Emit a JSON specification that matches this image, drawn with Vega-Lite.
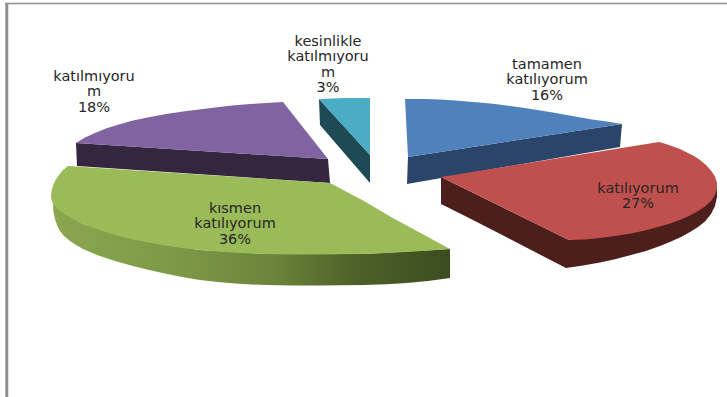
{
  "$schema": "https://vega.github.io/schema/vega-lite/v6.json",
  "width": 727,
  "height": 397,
  "padding": 0,
  "autosize": {"type": "none"},
  "background": "white",
  "projection": {"type": "identity", "scale": 1, "translate": [0, 0]},
  "datasets": {
    "frame": [
      {"type": "Feature", "properties": {"edge": "top", "w": 1.4}, "geometry": {"type": "LineString", "coordinates": [[5, 3.5], [727, 3.5]]}},
      {"type": "Feature", "properties": {"edge": "left", "w": 3}, "geometry": {"type": "LineString", "coordinates": [[6.8, 3], [6.8, 397]]}}
    ],
    "faces": [
      {"type": "Feature", "properties": {"face": "cyan side"}, "geometry": {"type": "Polygon", "coordinates": [[[319, 99], [320, 125], [370, 183], [370, 155], [319, 99]]]}},
      {"type": "Feature", "properties": {"face": "cyan top"}, "geometry": {"type": "Polygon", "coordinates": [[[319, 99], [345, 98], [370, 98], [370, 155], [319, 99]]]}},
      {"type": "Feature", "properties": {"face": "blue side"}, "geometry": {"type": "Polygon", "coordinates": [[[408, 157], [622, 124], [620, 147], [407, 184], [408, 157]]]}},
      {"type": "Feature", "properties": {"face": "blue top"}, "geometry": {"type": "Polygon", "coordinates": [[[405, 99], [425, 99], [440, 99.5], [455, 100.5], [470, 101.7], [485, 103], [497, 104.3], [510, 106], [523, 107.8], [537, 110], [550, 112], [564, 114.5], [578, 117], [592, 119.5], [607, 121.5], [622, 124], [408, 157], [405, 99]]]}},
      {"type": "Feature", "properties": {"face": "purple side"}, "geometry": {"type": "Polygon", "coordinates": [[[76, 143], [328, 159], [330, 183], [77, 166], [76, 143]]]}},
      {"type": "Feature", "properties": {"face": "purple top"}, "geometry": {"type": "Polygon", "coordinates": [[[76, 143], [85, 137.5], [95, 133], [106, 128.5], [117, 125], [133, 120.5], [150, 117], [166, 114], [183, 111.5], [199, 109.5], [215, 107.5], [232, 105.5], [250, 104], [266, 103], [283, 102], [328, 159], [76, 143]]]}},
      {"type": "Feature", "properties": {"face": "red side"}, "geometry": {"type": "Polygon", "coordinates": [[[441, 177], [441, 204], [471, 219], [566, 268], [583, 265.5], [600, 262.5], [616, 259], [631, 255], [646, 251], [660, 246], [671, 241.5], [681, 237], [690, 232], [698, 227], [705, 221.5], [711, 214], [715, 206], [717, 197], [717, 183], [569, 240], [441, 177]]]}},
      {"type": "Feature", "properties": {"face": "red top"}, "geometry": {"type": "Polygon", "coordinates": [[[441, 177], [659, 142], [666, 144], [673, 146.5], [680, 149], [687, 152.5], [694, 156], [700, 160], [706, 165], [711, 170.5], [715, 176.5], [717, 183], [717, 189], [715, 195], [711, 201], [705, 206.5], [698, 211], [690, 215.5], [681, 219.5], [670, 223.5], [658, 227], [645, 230.5], [631, 233.5], [615, 236], [600, 238], [585, 239.5], [569, 240], [441, 177]]]}}
    ],
    "greenSide": [
      {"type": "Feature", "properties": {"face": "green side"}, "geometry": {"type": "Polygon", "coordinates": [[[53, 204], [53.5, 212], [55, 219], [57, 225], [60, 231], [64, 236], [70, 241], [76, 245], [83, 249], [90, 252], [97, 255], [106, 258], [115, 261], [124, 263.5], [133, 266], [149, 270], [165, 273.5], [182, 277], [200, 280], [218, 282], [235, 283.5], [251, 284.5], [267, 285], [293, 285.5], [320, 285.5], [342, 285.3], [364, 285], [386, 284.2], [407, 283], [428, 281], [450, 278], [450, 249], [364, 254], [267, 254], [200, 250], [133, 239], [83, 224], [53, 204]]]}}
    ],
    "greenTop": [
      {"type": "Feature", "properties": {"face": "green top"}, "geometry": {"type": "Polygon", "coordinates": [[[68, 166], [330, 183], [364, 201], [391, 217], [450, 249], [430, 250.5], [410, 251.7], [387, 253], [364, 254], [342, 254.3], [320, 254.5], [293, 254.5], [267, 254], [251, 253.5], [235, 252.7], [218, 251.5], [200, 250], [182, 248], [165, 245.5], [149, 242.5], [133, 239.5], [119, 236], [105, 232], [94, 228], [83, 224], [74, 219.5], [65, 214.5], [58, 209.5], [53, 204], [51.5, 200], [51, 196], [51.5, 191], [53, 185.5], [55.5, 180], [59, 175], [63, 170], [68, 166]]]}}
    ],
    "labels": [
      {"answer": "tamamen katılıyorum", "share": 16, "text": "tamamen\nkatılıyorum\n16%", "cx": 547, "ty": 58},
      {"answer": "katılıyorum", "share": 27, "text": "katılıyorum\n27%", "cx": 638, "ty": 182},
      {"answer": "kısmen katılıyorum", "share": 36, "text": "kısmen\nkatılıyorum\n36%", "cx": 235, "ty": 202},
      {"answer": "katılmıyorum", "share": 18, "text": "katılmıyoru\nm\n18%", "cx": 94, "ty": 70},
      {"answer": "kesinlikle katılmıyorum", "share": 3, "text": "kesinlikle\nkatılmıyoru\nm\n3%", "cx": 328, "ty": 35}
    ]
  },
  "layer": [
    {
      "data": {"name": "frame"},
      "mark": {"type": "geoshape", "filled": false, "stroke": "#8f8f8f"},
      "encoding": {
        "strokeWidth": {"field": "properties.w", "type": "quantitative", "scale": null}
      }
    },
    {
      "data": {"name": "faces"},
      "mark": {"type": "geoshape", "strokeWidth": 0},
      "encoding": {
        "color": {
          "field": "properties.face",
          "type": "nominal",
          "legend": null,
          "scale": {
            "domain": ["cyan side", "cyan top", "blue side", "blue top", "purple side", "purple top", "red side", "red top"],
            "range": ["#1e4a56", "#4bacc6", "#2a4569", "#4f81bd", "#35263f", "#8064a2", "#4d1f1c", "#c0504d"]
          }
        }
      }
    },
    {
      "data": {"name": "greenSide"},
      "mark": {
        "type": "geoshape",
        "strokeWidth": 0,
        "fill": {
          "gradient": "linear",
          "x1": 0, "x2": 1, "y1": 0, "y2": 0,
          "stops": [
            {"offset": 0, "color": "#8aa64f"},
            {"offset": 0.3, "color": "#7d9a48"},
            {"offset": 0.55, "color": "#6c853b"},
            {"offset": 0.75, "color": "#4f6229"},
            {"offset": 1, "color": "#3c4c1f"}
          ]
        }
      }
    },
    {
      "data": {"name": "greenTop"},
      "mark": {"type": "geoshape", "strokeWidth": 0, "fill": "#9bbb59"}
    },
    {
      "data": {"name": "labels"},
      "mark": {
        "type": "text",
        "font": "DejaVu Sans",
        "fontSize": 14.5,
        "lineHeight": 15.4,
        "lineBreak": "\n",
        "align": "center",
        "baseline": "top",
        "fill": "#262626"
      },
      "encoding": {
        "longitude": {"field": "cx", "type": "quantitative"},
        "latitude": {"field": "ty", "type": "quantitative"},
        "text": {"field": "text", "type": "nominal"}
      }
    }
  ]
}
